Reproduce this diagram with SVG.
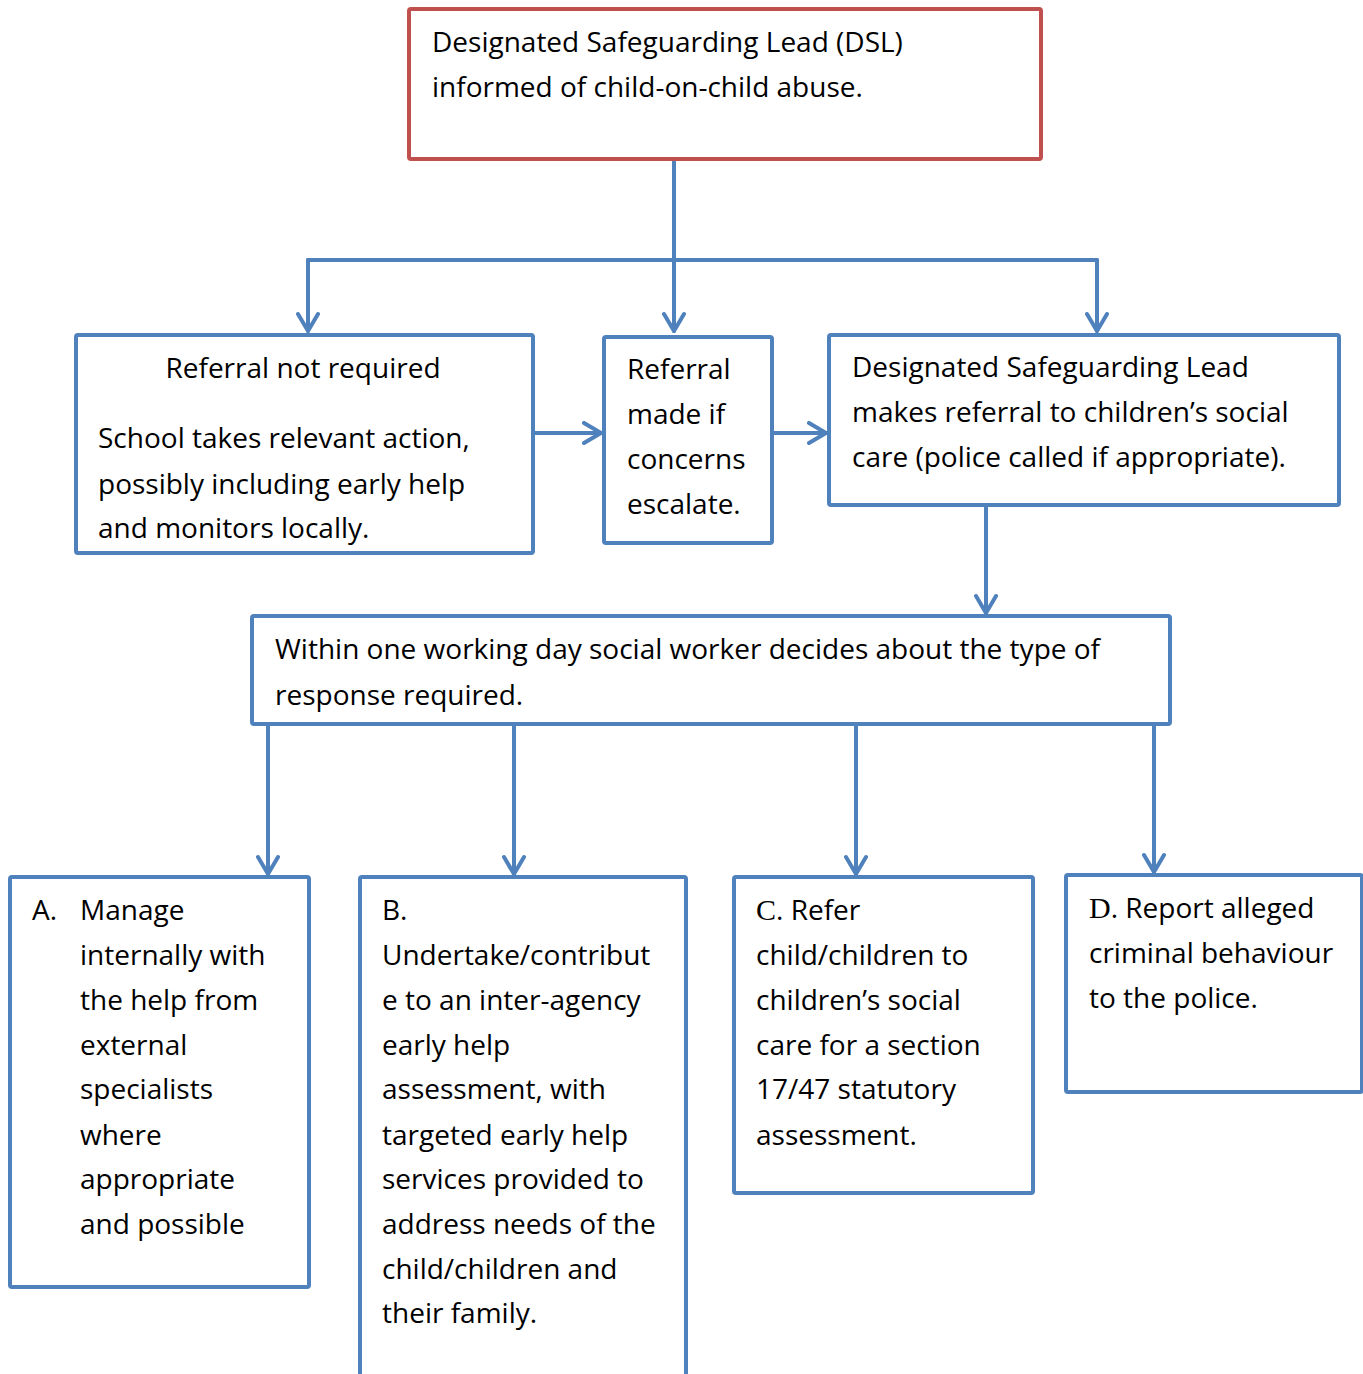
<svg xmlns="http://www.w3.org/2000/svg" width="1363" height="1374" viewBox="0 0 1363 1374">
<style>
.box{fill:#fff;stroke:#4F81BD;stroke-width:4}
.red{fill:#fff;stroke:#C0504D;stroke-width:4}
.c{fill:none;stroke:#4F81BD;stroke-width:4;stroke-linecap:round}
.a{marker-end:url(#arr)}
text{font-family:"Open Sans","Liberation Sans",Arial,sans-serif;font-size:28px;fill:#000}
.s{font-family:"Liberation Serif","Times New Roman",serif;font-size:30px}
</style>
<defs>
<marker id="arr" markerUnits="userSpaceOnUse" viewBox="0 0 24 24" refX="20" refY="12" markerWidth="24" markerHeight="24" orient="auto">
<path d="M3,2 L20,12 L3,22" fill="none" stroke="#4F81BD" stroke-width="4" stroke-linecap="round" stroke-linejoin="round"/>
</marker>
</defs>
<g id="connectors">
<path class="c a" d="M674,160 V331"/>
<path class="c" d="M308,260 H1097"/>
<path class="c a" d="M308,260 V331"/>
<path class="c a" d="M1097,260 V331"/>
<path class="c a" d="M535,433 H601"/>
<path class="c a" d="M764,433 H826"/>
<path class="c a" d="M986,506 V613"/>
<path class="c a" d="M268,726 V874"/>
<path class="c a" d="M514,726 V874"/>
<path class="c a" d="M856,726 V874"/>
<path class="c a" d="M1154,726 V872"/>
</g>
<g id="dsl-informed">
<rect class="red" x="409" y="9" width="632" height="150" rx="2"/>
<text x="432" y="52">Designated Safeguarding Lead (DSL)</text>
<text x="432" y="97">informed of child-on-child abuse.</text>
</g>
<g id="referral-not-required">
<rect class="box" x="76" y="335" width="457" height="218" rx="2"/>
<text x="303" y="378" text-anchor="middle">Referral not required</text>
<text x="98" y="448">School takes relevant action,</text>
<text x="98" y="494">possibly including early help</text>
<text x="98" y="538">and monitors locally.</text>
</g>
<g id="referral-if-escalate">
<rect class="box" x="604" y="337" width="168" height="206" rx="2"/>
<text x="627" y="379">Referral</text>
<text x="627" y="424">made if</text>
<text x="627" y="469">concerns</text>
<text x="627" y="514">escalate.</text>
</g>
<g id="dsl-referral">
<rect class="box" x="829" y="335" width="510" height="170" rx="2"/>
<text x="852" y="377">Designated Safeguarding Lead</text>
<text x="852" y="422">makes referral to children’s social</text>
<text x="852" y="467">care (police called if appropriate).</text>
</g>
<g id="social-worker-decides">
<rect class="box" x="252" y="616" width="918" height="108" rx="2"/>
<text x="275" y="659">Within one working day social worker decides about the type of</text>
<text x="275" y="705">response required.</text>
</g>
<g id="option-a">
<rect class="box" x="10" y="877" width="299" height="410" rx="2"/>
<text x="32" y="920">A.</text>
<text x="80" y="920">Manage</text>
<text x="80" y="965">internally with</text>
<text x="80" y="1010">the help from</text>
<text x="80" y="1055">external</text>
<text x="80" y="1099">specialists</text>
<text x="80" y="1145">where</text>
<text x="80" y="1189">appropriate</text>
<text x="80" y="1234">and possible</text>
</g>
<g id="option-b">
<rect class="box" x="360" y="877" width="326" height="520" rx="2"/>
<text x="382" y="920">B.</text>
<text x="382" y="965">Undertake/contribut</text>
<text x="382" y="1010">e to an inter-agency</text>
<text x="382" y="1055">early help</text>
<text x="382" y="1099">assessment, with</text>
<text x="382" y="1145">targeted early help</text>
<text x="382" y="1189">services provided to</text>
<text x="382" y="1234">address needs of the</text>
<text x="382" y="1279">child/children and</text>
<text x="382" y="1323">their family.</text>
</g>
<g id="option-c">
<rect class="box" x="734" y="877" width="299" height="316" rx="2"/>
<text x="756" y="920"><tspan class="s">C</tspan>. Refer</text>
<text x="756" y="965">child/children to</text>
<text x="756" y="1010">children’s social</text>
<text x="756" y="1055">care for a section</text>
<text x="756" y="1099">17/47 statutory</text>
<text x="756" y="1145">assessment.</text>
</g>
<g id="option-d">
<rect class="box" x="1066" y="875" width="296" height="217" rx="2"/>
<text x="1089" y="918"><tspan class="s">D</tspan>. Report alleged</text>
<text x="1089" y="963">criminal behaviour</text>
<text x="1089" y="1008">to the police.</text>
</g>
</svg>
